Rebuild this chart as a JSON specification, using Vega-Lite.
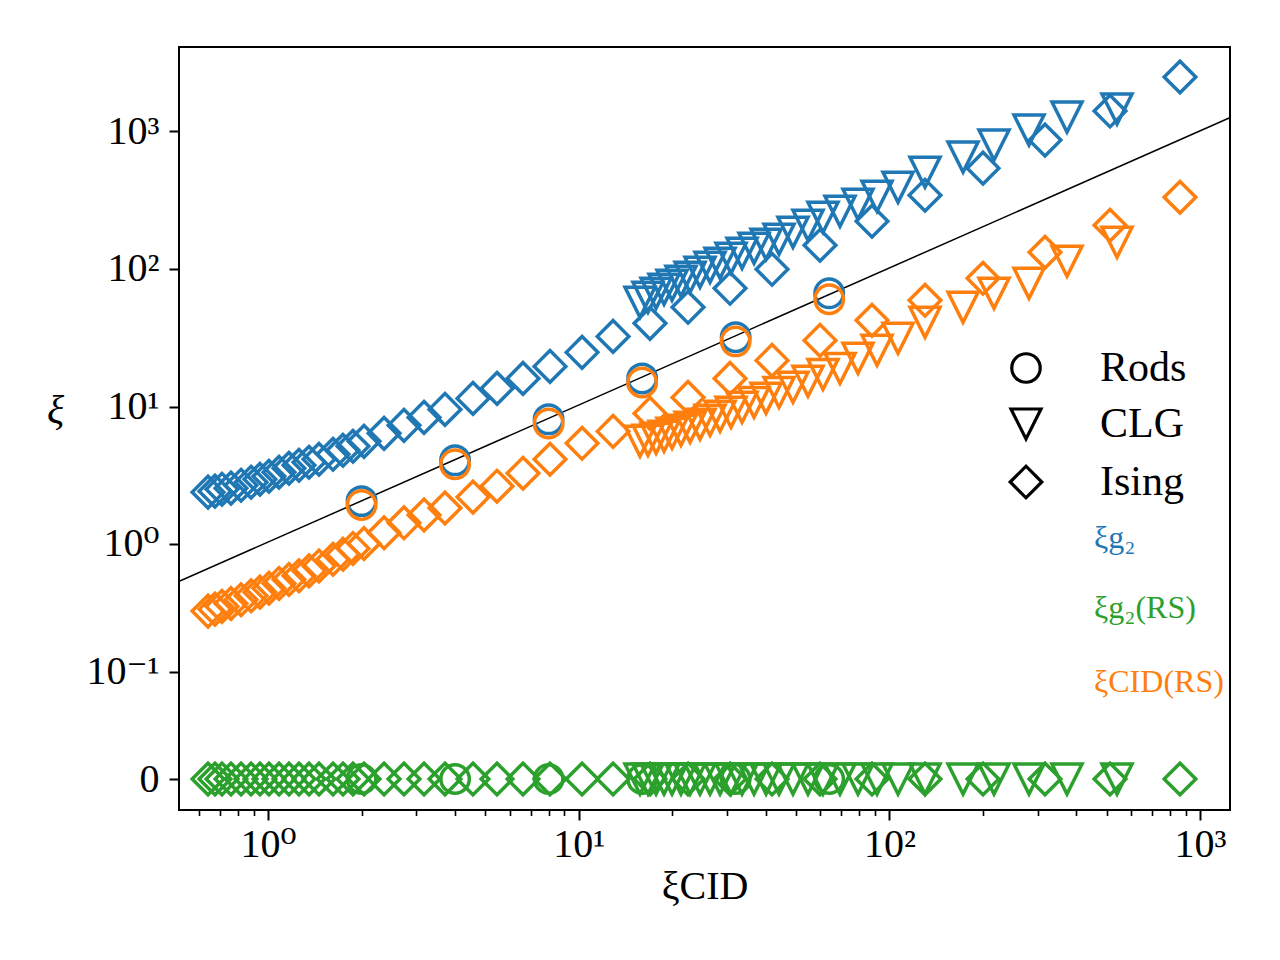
{
  "$schema": "https://vega.github.io/schema/vega-lite/v6.json",
  "width": 1051,
  "height": 763,
  "autosize": {"type": "none"},
  "padding": {"left": 179, "top": 47, "right": 50, "bottom": 150},
  "background": "white",
  "config": {
    "view": {"stroke": "black", "strokeWidth": 2},
    "font": "Liberation Serif, DejaVu Serif",
    "axis": {
      "labelFont": "Liberation Serif, DejaVu Serif", "labelFontSize": 40, "labelColor": "black",
      "titleFont": "Liberation Serif, DejaVu Serif", "titleFontSize": 40, "titleFontWeight": "normal", "titleColor": "black",
      "tickColor": "black", "grid": false, "domain": false, "labelFlush": false, "labelOverlap": false
    },
    "legend": {"padding": 0, "labelFont": "Liberation Serif, DejaVu Serif", "labelFontSize": 42}
  },
  "data": {"values": [
    {"model": "Ising", "xcid": 0.641, "g2": 2.386, "g2rs": 0, "cid": 0.310},
    {"model": "Ising", "xcid": 0.675, "g2": 2.426, "g2rs": 0, "cid": 0.321},
    {"model": "Ising", "xcid": 0.711, "g2": 2.508, "g2rs": 0, "cid": 0.337},
    {"model": "Ising", "xcid": 0.760, "g2": 2.551, "g2rs": 0, "cid": 0.355},
    {"model": "Ising", "xcid": 0.819, "g2": 2.682, "g2rs": 0, "cid": 0.379},
    {"model": "Ising", "xcid": 0.882, "g2": 2.820, "g2rs": 0, "cid": 0.406},
    {"model": "Ising", "xcid": 0.942, "g2": 2.965, "g2rs": 0, "cid": 0.433},
    {"model": "Ising", "xcid": 1.007, "g2": 3.118, "g2rs": 0, "cid": 0.463},
    {"model": "Ising", "xcid": 1.085, "g2": 3.333, "g2rs": 0, "cid": 0.504},
    {"model": "Ising", "xcid": 1.168, "g2": 3.564, "g2rs": 0, "cid": 0.539},
    {"model": "Ising", "xcid": 1.258, "g2": 3.747, "g2rs": 0, "cid": 0.576},
    {"model": "Ising", "xcid": 1.355, "g2": 3.940, "g2rs": 0, "cid": 0.626},
    {"model": "Ising", "xcid": 1.459, "g2": 4.143, "g2rs": 0, "cid": 0.681},
    {"model": "Ising", "xcid": 1.619, "g2": 4.504, "g2rs": 0, "cid": 0.765},
    {"model": "Ising", "xcid": 1.743, "g2": 4.815, "g2rs": 0, "cid": 0.832},
    {"model": "Ising", "xcid": 1.877, "g2": 5.149, "g2rs": 0, "cid": 0.920},
    {"model": "Ising", "xcid": 2.037, "g2": 5.598, "g2rs": 0, "cid": 1.000},
    {"model": "Ising", "xcid": 2.363, "g2": 6.401, "g2rs": 0, "cid": 1.202},
    {"model": "Ising", "xcid": 2.739, "g2": 7.315, "g2rs": 0, "cid": 1.421},
    {"model": "Ising", "xcid": 3.178, "g2": 8.362, "g2rs": 0, "cid": 1.624},
    {"model": "Ising", "xcid": 3.712, "g2": 9.559, "g2rs": 0, "cid": 1.826},
    {"model": "Ising", "xcid": 4.568, "g2": 11.49, "g2rs": 0, "cid": 2.194},
    {"model": "Ising", "xcid": 5.458, "g2": 13.58, "g2rs": 0, "cid": 2.638},
    {"model": "Ising", "xcid": 6.618, "g2": 16.05, "g2rs": 0, "cid": 3.279},
    {"model": "Ising", "xcid": 8.083, "g2": 19.62, "g2rs": 0, "cid": 4.143},
    {"model": "Ising", "xcid": 10.25, "g2": 24.80, "g2rs": 0, "cid": 5.414},
    {"model": "Ising", "xcid": 12.90, "g2": 32.39, "g2rs": 0, "cid": 6.616},
    {"model": "Ising", "xcid": 16.96, "g2": 40.27, "g2rs": 0, "cid": 8.939},
    {"model": "Ising", "xcid": 22.48, "g2": 52.62, "g2rs": 0, "cid": 11.68},
    {"model": "Ising", "xcid": 30.69, "g2": 72.29, "g2rs": 0, "cid": 16.05},
    {"model": "Ising", "xcid": 41.90, "g2": 99.3, "g2rs": 0, "cid": 21.69},
    {"model": "Ising", "xcid": 59.79, "g2": 148.4, "g2rs": 0, "cid": 30.30},
    {"model": "Ising", "xcid": 87.90, "g2": 221.7, "g2rs": 0, "cid": 42.34},
    {"model": "Ising", "xcid": 130.2, "g2": 342.4, "g2rs": 0, "cid": 59.16},
    {"model": "Ising", "xcid": 200.1, "g2": 537.8, "g2rs": 0, "cid": 85.44},
    {"model": "Ising", "xcid": 316.8, "g2": 858.9, "g2rs": 0, "cid": 132.0},
    {"model": "Ising", "xcid": 512.9, "g2": 1395, "g2rs": 0, "cid": 207.3},
    {"model": "Ising", "xcid": 861.5, "g2": 2463, "g2rs": 0, "cid": 331.1},
    {"model": "CLG", "xcid": 15.75, "g2": 57.20, "g2rs": 0, "cid": 5.598},
    {"model": "CLG", "xcid": 16.71, "g2": 62.20, "g2rs": 0, "cid": 5.692},
    {"model": "CLG", "xcid": 17.74, "g2": 66.50, "g2rs": 0, "cid": 5.885},
    {"model": "CLG", "xcid": 18.82, "g2": 71.10, "g2rs": 0, "cid": 6.085},
    {"model": "CLG", "xcid": 19.97, "g2": 76.01, "g2rs": 0, "cid": 6.401},
    {"model": "CLG", "xcid": 21.34, "g2": 81.27, "g2rs": 0, "cid": 6.727},
    {"model": "CLG", "xcid": 22.82, "g2": 86.90, "g2rs": 0, "cid": 7.073},
    {"model": "CLG", "xcid": 24.57, "g2": 94.47, "g2rs": 0, "cid": 7.437},
    {"model": "CLG", "xcid": 26.46, "g2": 102.7, "g2rs": 0, "cid": 7.951},
    {"model": "CLG", "xcid": 28.50, "g2": 109.8, "g2rs": 0, "cid": 8.503},
    {"model": "CLG", "xcid": 30.92, "g2": 119.4, "g2rs": 0, "cid": 9.091},
    {"model": "CLG", "xcid": 33.55, "g2": 129.8, "g2rs": 0, "cid": 9.883},
    {"model": "CLG", "xcid": 36.67, "g2": 141.1, "g2rs": 0, "cid": 10.74},
    {"model": "CLG", "xcid": 40.08, "g2": 150.9, "g2rs": 0, "cid": 11.49},
    {"model": "CLG", "xcid": 44.13, "g2": 164.1, "g2rs": 0, "cid": 12.70},
    {"model": "CLG", "xcid": 48.94, "g2": 184.5, "g2rs": 0, "cid": 13.81},
    {"model": "CLG", "xcid": 54.70, "g2": 207.3, "g2rs": 0, "cid": 15.27},
    {"model": "CLG", "xcid": 61.12, "g2": 237.0, "g2rs": 0, "cid": 17.16},
    {"model": "CLG", "xcid": 69.34, "g2": 262.0, "g2rs": 0, "cid": 18.97},
    {"model": "CLG", "xcid": 79.23, "g2": 294.5, "g2rs": 0, "cid": 22.43},
    {"model": "CLG", "xcid": 91.23, "g2": 336.7, "g2rs": 0, "cid": 25.64},
    {"model": "CLG", "xcid": 106.6, "g2": 391.3, "g2rs": 0, "cid": 31.33},
    {"model": "CLG", "xcid": 130.2, "g2": 502.9, "g2rs": 0, "cid": 40.95},
    {"model": "CLG", "xcid": 172.6, "g2": 646.5, "g2rs": 0, "cid": 52.62},
    {"model": "CLG", "xcid": 217.1, "g2": 789.8, "g2rs": 0, "cid": 66.50},
    {"model": "CLG", "xcid": 281.4, "g2": 1015, "g2rs": 0, "cid": 78.62},
    {"model": "CLG", "xcid": 372.9, "g2": 1262, "g2rs": 0, "cid": 113.6},
    {"model": "CLG", "xcid": 540.2, "g2": 1442, "g2rs": 0, "cid": 156.0},
    {"model": "Rods", "xcid": 2, "g2": 2.05, "g2rs": 0, "cid": 1.92},
    {"model": "Rods", "xcid": 4, "g2": 4.07, "g2rs": 0, "cid": 3.81},
    {"model": "Rods", "xcid": 8, "g2": 8.09, "g2rs": 0, "cid": 7.56},
    {"model": "Rods", "xcid": 16, "g2": 16.05, "g2rs": 0, "cid": 15.0},
    {"model": "Rods", "xcid": 32, "g2": 31.9, "g2rs": 0, "cid": 29.8},
    {"model": "Rods", "xcid": 64, "g2": 66.5, "g2rs": 0, "cid": 60.2}
  ]},
  "encoding": {
    "x": {
      "field": "xcid", "type": "quantitative",
      "scale": {"type": "log", "domain": [0.517, 1248], "nice": false},
      "axis": {
        "title": "ξCID",
        "titleY": 88, "titleBaseline": "alphabetic",
        "values": [0.6, 0.7, 0.8, 0.9, 1, 2, 3, 4, 5, 6, 7, 8, 9, 10, 20, 30, 40, 50, 60, 70, 80, 90, 100, 200, 300, 400, 500, 600, 700, 800, 900, 1000],
        "labelExpr": "datum.value == 1 ? '10⁰' : datum.value == 10 ? '10¹' : datum.value == 100 ? '10²' : datum.value == 1000 ? '10³' : ''",
        "tickSize": {"condition": {"test": "abs(log(datum.value)/LN10 - round(log(datum.value)/LN10)) < 0.001", "value": 10}, "value": 5.5},
        "tickWidth": {"condition": {"test": "abs(log(datum.value)/LN10 - round(log(datum.value)/LN10)) < 0.001", "value": 2}, "value": 1.6},
        "labelPadding": 4
      }
    },
    "y": {
      "field": "xi", "type": "quantitative",
      "scale": {"type": "symlog", "constant": 0.02, "domain": [-0.01356, 4066], "nice": false, "zero": false},
      "axis": {
        "title": "ξ",
        "titleAngle": 0, "titleX": -124, "titleY": 363, "titleAlign": "center", "titleBaseline": "middle", "titleFontStyle": "italic",
        "values": [0, 0.1, 1, 10, 100, 1000],
        "labelExpr": "datum.value == 0 ? '0' : datum.value == 0.1 ? '10⁻¹' : datum.value == 1 ? '10⁰' : datum.value == 10 ? '10¹' : datum.value == 100 ? '10²' : '10³'",
        "tickSize": 10, "tickWidth": 2, "labelPadding": 10
      }
    },
    "shape": {
      "field": "model", "type": "nominal",
      "scale": {"domain": ["Rods", "CLG", "Ising"], "range": ["M0.9,0A0.9,0.9,0,1,1,-0.9,0A0.9,0.9,0,1,1,0.9,0Z", "M-0.95,-0.95L0.95,-0.95L0,0.95Z", "M-1,0L0,-1L1,0L0,1Z"]},
      "legend": {
        "title": null, "orient": "none", "legendX": 826, "legendY": 300,
        "symbolSize": 1000, "symbolStrokeColor": "black", "symbolFillColor": "transparent", "symbolStrokeWidth": 3.2,
        "labelOffset": 53, "rowPadding": 13, "labelFontSize": 42, "labelColor": "black"
      }
    }
  },
  "resolve": {"scale": {"color": "independent"}, "legend": {"color": "independent"}},
  "layer": [
    {
      "data": {"values": [{"xcid": 0.4, "xi": 0.4}, {"xcid": 1500, "xi": 1500}]},
      "mark": {"type": "line", "color": "black", "strokeWidth": 1.5, "clip": true},
      "encoding": {"shape": null}
    },
    {
      "transform": [{"fold": ["g2", "g2rs", "cid"], "as": ["quantity", "xi"]}, {"filter": "datum.quantity == 'g2'"}],
      "mark": {"type": "point", "filled": false, "strokeWidth": 3.5, "opacity": 1, "size": 1000, "clip": true},
      "encoding": {
        "color": {
          "field": "quantity", "type": "nominal",
          "scale": {"domain": ["g2"], "range": ["#1f77b4"]},
          "legend": {
            "title": null, "orient": "none", "legendX": 826, "legendY": 474,
            "symbolSize": 1000, "symbolOpacity": 0, "labelOffset": 55, "labelFontSize": 32, "labelColor": "#1f77b4",
            "labelExpr": "'ξg₂'"
          }
        }
      }
    },
    {
      "transform": [{"fold": ["g2", "g2rs", "cid"], "as": ["quantity", "xi"]}, {"filter": "datum.quantity == 'g2rs'"}],
      "mark": {"type": "point", "filled": false, "strokeWidth": 3.5, "opacity": 1, "size": 1000, "clip": true},
      "encoding": {
        "color": {
          "field": "quantity", "type": "nominal",
          "scale": {"domain": ["g2rs"], "range": ["#2ca02c"]},
          "legend": {
            "title": null, "orient": "none", "legendX": 826, "legendY": 544,
            "symbolSize": 1000, "symbolOpacity": 0, "labelOffset": 55, "labelFontSize": 32, "labelColor": "#2ca02c",
            "labelExpr": "'ξg₂(RS)'"
          }
        }
      }
    },
    {
      "transform": [{"fold": ["g2", "g2rs", "cid"], "as": ["quantity", "xi"]}, {"filter": "datum.quantity == 'cid'"}],
      "mark": {"type": "point", "filled": false, "strokeWidth": 3.5, "opacity": 1, "size": 1000, "clip": true},
      "encoding": {
        "color": {
          "field": "quantity", "type": "nominal",
          "scale": {"domain": ["cid"], "range": ["#ff7f0e"]},
          "legend": {
            "title": null, "orient": "none", "legendX": 826, "legendY": 618,
            "symbolSize": 1000, "symbolOpacity": 0, "labelOffset": 55, "labelFontSize": 32, "labelColor": "#ff7f0e",
            "labelExpr": "'ξCID(RS)'"
          }
        }
      }
    }
  ]
}
